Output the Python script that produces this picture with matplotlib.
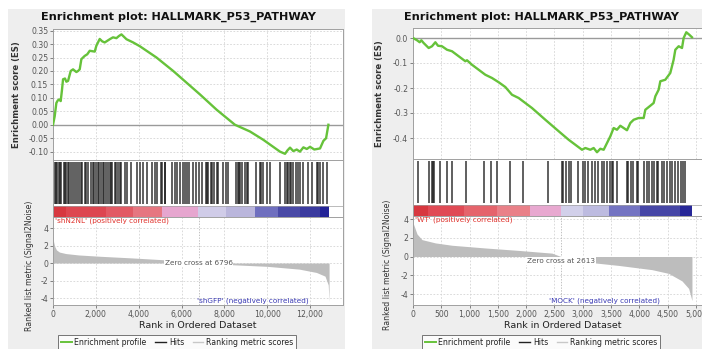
import matplotlib
matplotlib.use('Agg')
import matplotlib.pyplot as plt
from matplotlib.patches import Rectangle
from matplotlib.lines import Line2D
from matplotlib.ticker import FuncFormatter, MultipleLocator, FixedLocator

plt.rcParams['font.family'] = ['DejaVu Sans']
plt.rcParams['axes.unicode_minus'] = False

W, H = 702, 349
TITLE = "Enrichment plot: HALLMARK_P53_PATHWAY"

# ---------------- Left panel data ----------------
L_n = 12890
L_zero_cross = 6796
L_es_rank = [0, 78, 157, 220, 282, 360, 420, 469, 560, 624, 703, 827, 936, 1091, 1170, 1247, 1325, 1481, 1600, 1714,
             1948, 2026, 2182, 2300, 2416, 2650, 2800, 2962, 3080, 3196, 3430, 3741, 4053, 4832, 5611, 6858, 7638, 8495,
             9196, 9820, 10599, 10833, 10950, 11067, 11220, 11379, 11530, 11690, 11850, 12001, 12200, 12468, 12624,
             12750, 12858]
L_es = [0, 0.031, 0.081, 0.09, 0.094, 0.088, 0.13, 0.169, 0.172, 0.16, 0.163, 0.2, 0.206, 0.196, 0.2, 0.206, 0.244,
        0.256, 0.262, 0.275, 0.272, 0.294, 0.319, 0.31, 0.306, 0.318, 0.325, 0.322, 0.33, 0.336, 0.318, 0.306, 0.292,
        0.25, 0.2, 0.113, 0.056, 0.0, -0.025, -0.056, -0.1, -0.108, -0.095, -0.085, -0.098, -0.092, -0.1, -0.084,
        -0.09, -0.082, -0.092, -0.088, -0.06, -0.05, 0.0]
L_hits = [80, 140, 187, 281, 330, 393, 500, 560, 627, 700, 748, 860, 920, 1015, 1122, 1216, 1290, 1375, 1482, 1560,
          1637, 1795, 1850, 1902, 2029, 2100, 2151, 2263, 2320, 2370, 2497, 2560, 2651, 2720, 2777, 2884, 2960, 3039,
          3120, 3198, 3352, 3460, 3665, 3899, 4053, 4208, 4395, 4600, 4755, 4862, 5021, 5100, 5222, 5250, 5536, 5690,
          5798, 5924, 6078, 6150, 6237, 6359, 6546, 6672, 6826, 6938, 7140, 7200, 7247, 7359, 7420, 7513, 7640, 7700,
          7948, 8075, 8150, 8541, 8621, 8670, 8728, 8808, 8962, 9050, 9118, 9476, 9663, 9720, 9789, 10004, 10130,
          10597, 10831, 10939, 10950, 11048, 11120, 11204, 11344, 11460, 11531, 11687, 11920, 12078, 12312, 12380,
          12468, 12624, 12780]
L_cb_edges = [0, 625, 2496, 3740, 5082, 6765, 8074, 9430, 10505, 11533, 12468, 12890]
L_cb_colors = ['#d7373f', '#dd4650', '#e25a64', '#e67680', '#e6a6cf', '#d0cce8', '#bab6dc', '#6f6fbf', '#4a4aa7',
               '#3b3b9f', '#232397']
L_metric_rank = [0, 30, 80, 160, 300, 600, 1200, 2200, 3700, 5300, 6796, 8400, 10000, 11500, 12300, 12700, 12850, 12890]
L_metric = [3.0, 2.4, 1.9, 1.5, 1.25, 1.08, 0.92, 0.77, 0.58, 0.35, 0.0, -0.2, -0.38, -0.7, -1.08, -1.5, -2.5, -4.4]
L_pos_label = "'shN2NL' (positively correlated)"
L_neg_label = "'shGFP' (negatively correlated)"

# ---------------- Right panel data ----------------
R_n = 4929
R_zero_cross = 2613
R_es_rank = [0, 71, 118, 147, 188, 277, 336, 395, 442, 512, 601, 689, 807, 925, 954, 1042, 1278, 1396, 1514, 1631,
             1749, 1867, 2102, 2338, 2574, 2750, 2868, 2986, 3045, 3133, 3192, 3251, 3310, 3369, 3428, 3487, 3545,
             3604, 3663, 3722, 3781, 3840, 3899, 3987, 4076, 4105, 4193, 4252, 4282, 4340, 4370, 4458, 4546, 4605,
             4635, 4694, 4753, 4782, 4829, 4882, 4929]
R_es = [0, -0.009, -0.017, -0.009, -0.02, -0.04, -0.033, -0.017, -0.031, -0.033, -0.047, -0.053, -0.073, -0.093,
        -0.089, -0.107, -0.147, -0.16, -0.177, -0.196, -0.227, -0.24, -0.28, -0.327, -0.373, -0.407, -0.427, -0.447,
        -0.44, -0.447, -0.44, -0.457, -0.443, -0.447, -0.42, -0.393, -0.36, -0.367, -0.351, -0.36, -0.369, -0.34,
        -0.327, -0.32, -0.32, -0.287, -0.271, -0.26, -0.233, -0.207, -0.173, -0.167, -0.14, -0.087, -0.047, -0.033,
        -0.04, 0.0, 0.023, 0.013, 0.003]
R_hits = [94, 288, 330, 358, 376, 477, 595, 684, 936, 1254, 1372, 1489, 1714, 1938, 2390, 2627, 2655, 2698, 2756,
          2792, 2921, 3009, 3039, 3097, 3157, 3216, 3263, 3334, 3380, 3422, 3481, 3511, 3539, 3599, 3775, 3804, 3852,
          3892, 3952, 3981, 4087, 4129, 4170, 4217, 4263, 4305, 4334, 4394, 4440, 4482, 4541, 4581, 4629, 4677, 4735,
          4776, 4806]
R_cb_edges = [0, 271, 895, 1484, 2073, 2620, 3000, 3457, 4016, 4723, 4929]
R_cb_colors = ['#d7373f', '#e04a55', '#e5646c', '#e98088', '#e8a8d0', '#d2d0ea', '#bdbbe0', '#7474c2', '#4646a6',
               '#272798']
R_metric_rank = [0, 12, 71, 159, 395, 689, 1278, 1867, 2456, 2613, 2750, 3162, 3634, 4222, 4517, 4752, 4870, 4929]
R_metric = [3.6, 3.4, 2.4, 1.8, 1.45, 1.2, 0.91, 0.65, 0.36, 0.0, -0.35, -0.65, -0.95, -1.4, -1.8, -2.6, -3.4, -4.7]
R_pos_label = "'WT' (positively correlated)"
R_neg_label = "'MOCK' (negatively correlated)"

GREEN = '#66c23a'
TXT = '#555555'
SPINE = '#a0a0a0'
GRID = '#d4d4d4'

fig = plt.figure(figsize=(W / 100, H / 100), dpi=100)
fig.patch.set_facecolor('white')


def px_axes(x0, y0, x1, y1):
    return fig.add_axes([x0 / W, (H - y1) / H, (x1 - x0) / W, (y1 - y0) / H])


def style(ax):
    ax.set_facecolor('white')
    for s in ax.spines.values():
        s.set_color(SPINE)
        s.set_linewidth(0.7)
    ax.tick_params(labelsize=5.6, colors=TXT, length=2, width=0.5, pad=1.5)


comma = FuncFormatter(lambda v, p: f"{int(v):,}")


def panel(px0, px1, xmax, y_es, y_hit, y_met, y_bot, es_rank, es, es_lim, es_ticks, es_fmt, hits, cb_edges,
          cb_colors, m_rank, m_val, m_lim, zero_cross, xstep, pos_lab, neg_lab, neg_x, neg_ha, zc_y,
          title_x, yl1_x, yl2_x, leg_x, panel_x0, panel_x1, hit_range):
    fig.patches.append(Rectangle((panel_x0 / W, 0), (panel_x1 - panel_x0) / W, (H - 9) / H,
                                 transform=fig.transFigure, facecolor='#eeeeee', edgecolor='none', zorder=-10))
    fig.text(title_x / W, 1 - 17 / H, TITLE, ha='center', va='center', fontsize=8.1, fontweight='bold',
             color='#111111')

    # ES axes
    ax1 = px_axes(px0, y_es, px1, y_hit)
    style(ax1)
    ax1.plot(es_rank, es, color=GREEN, lw=1.7, zorder=3)
    ax1.axhline(0, color='#9a9a9a', lw=1.0, zorder=2)
    ax1.set_xlim(0, xmax)
    ax1.set_ylim(*es_lim)
    ax1.yaxis.set_major_locator(FixedLocator(es_ticks))
    ax1.yaxis.set_major_formatter(FuncFormatter(lambda v, p: es_fmt.format(v)))
    ax1.xaxis.set_major_locator(MultipleLocator(xstep))
    ax1.tick_params(axis='x', length=0, labelbottom=False)
    ax1.grid(True, color=GRID, lw=0.6, ls=(0, (2, 2)))
    ax1.set_axisbelow(True)
    ax1.set_ylabel('Enrichment score (ES)', fontsize=6.1, fontweight='bold', color='#333333')
    ax1.yaxis.set_label_coords(-(px0 - yl1_x) / (px1 - px0), 0.5)

    # Hits + colour bar axes
    ax2 = px_axes(px0, y_hit, px1, y_met)
    style(ax2)
    ax2.set_xlim(0, xmax)
    ax2.set_ylim(0, 1)
    ax2.set_xticks([])
    ax2.set_yticks([])
    ax2.vlines(hits, hit_range[0], hit_range[1], color='#1a1a1a', lw=1.15, alpha=0.85)
    for i, c in enumerate(cb_colors):
        ax2.axvspan(cb_edges[i], cb_edges[i + 1], ymin=0.0, ymax=0.2, facecolor=c, edgecolor='none')
    ax2.axhline(0.2, color=SPINE, lw=0.5)

    # Ranked metric axes
    ax3 = px_axes(px0, y_met, px1, y_bot)
    style(ax3)
    ax3.fill_between(m_rank, m_val, 0, color='#bdbdbd', lw=0, zorder=2)
    ax3.set_xlim(0, xmax)
    ax3.set_ylim(*m_lim)
    ax3.yaxis.set_major_locator(FixedLocator([4, 2, 0, -2, -4]))
    ax3.yaxis.set_major_formatter(FuncFormatter(lambda v, p: f"{int(v)}"))
    ax3.xaxis.set_major_locator(MultipleLocator(xstep))
    ax3.xaxis.set_major_formatter(comma)
    ax3.grid(True, color=GRID, lw=0.6, ls=(0, (2, 2)))
    ax3.set_axisbelow(True)
    ax3.axvline(zero_cross, color='#aaaaaa', lw=0.5, ls=(0, (2, 2)), zorder=1)
    ax3.set_xlabel('Rank in Ordered Dataset', fontsize=6.8, color='#222222', labelpad=1.5)
    ax3.set_ylabel('Ranked list metric (Signal2Noise)', fontsize=5.6, color='#333333')
    ax3.yaxis.set_label_coords(-(px0 - yl2_x) / (px1 - px0), 0.45)
    ax3.text(0.008, 0.955, pos_lab, transform=ax3.transAxes, fontsize=5.2, color='#e0302a', va='center',
             ha='left')
    ax3.text(neg_x, 0.05, neg_lab, transform=ax3.get_xaxis_transform(), fontsize=5.2, color='#3a3ab4',
             va='center', ha=neg_ha)
    ax3.text(zero_cross, zc_y, f"Zero cross at {zero_cross}", fontsize=5.2, color='#555555', ha='center',
             va='center', zorder=4, bbox=dict(facecolor='white', edgecolor='none', pad=0.6))

    handles = [Line2D([], [], color=GREEN, lw=1.4), Line2D([], [], color='#222222', lw=1.0),
               Line2D([], [], color='#c8c8c8', lw=1.0)]
    labels = ['Enrichment profile', 'Hits', 'Ranking metric scores']
    leg = fig.legend(handles, labels, loc='upper left', bbox_to_anchor=(leg_x / W, 1 - 335 / H), ncol=3,
                     fontsize=5.6, frameon=True, fancybox=False, edgecolor='#555555', handlelength=1.4,
                     handletextpad=0.35, columnspacing=1.1, borderpad=0.35, borderaxespad=0)
    leg.get_frame().set_linewidth(0.7)
    for t in leg.get_texts():
        t.set_color('#222222')


panel(53, 343, 13540, 29, 160, 217, 305, L_es_rank, L_es, (-0.131, 0.356),
      [0.35, 0.30, 0.25, 0.20, 0.15, 0.10, 0.05, 0.0, -0.05, -0.10], "{:.2f}", L_hits, L_cb_edges, L_cb_colors,
      L_metric_rank, L_metric, (-4.8, 5.26), L_zero_cross, 2000, L_pos_label, L_neg_label, 6700, 'left', 0.0,
      178, 21, 34, 58, 8, 345, (0.23, 0.965))

panel(413, 712, 5283, 28, 159, 216, 305, R_es_rank, R_es, (-0.484, 0.04),
      [0.0, -0.1, -0.2, -0.3, -0.4], "{:.1f}", R_hits, R_cb_edges, R_cb_colors,
      R_metric_rank, R_metric, (-5.17, 4.32), R_zero_cross, 500, R_pos_label, R_neg_label, 4364, 'right', -0.45,
      541, 384, 392, 422, 372, 702, (0.23, 0.96))

fig.savefig('out.png', dpi=100)
